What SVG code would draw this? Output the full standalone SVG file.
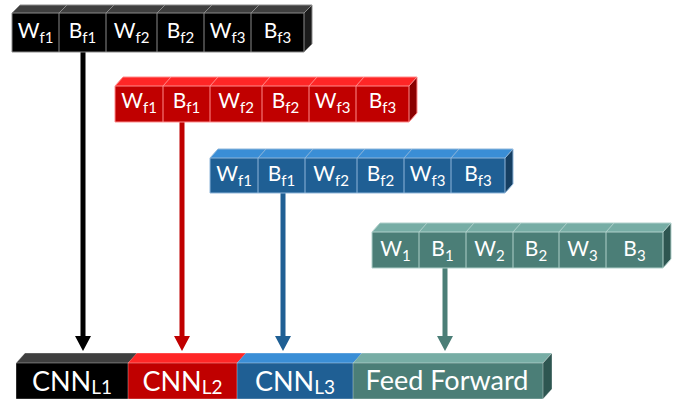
<svg xmlns="http://www.w3.org/2000/svg" width="673" height="402" viewBox="0 0 673 402">
<defs>
<style>
text{font-family:Lato,"Open Sans","Liberation Sans",sans-serif;fill:#fff;text-anchor:middle}
.c{font-size:21px}
.s{font-size:15px}
.b{font-size:27px}
.bs{font-size:19px}
.blk .f{fill:#000}.blk .t{fill:#3f3f3f}.blk .d{fill:#1b1b1b}.blk .l{stroke:#8a8a8a}
.red .f{fill:#c00000}.red .t{fill:#ff2626}.red .d{fill:#8a0000}.red .l{stroke:#ff8c8c}
.blu .f{fill:#1f5f94}.blu .t{fill:#3a8ed6}.blu .d{fill:#163f62}.blu .l{stroke:#8fb6da}
.tea .f{fill:#4b7e77}.tea .t{fill:#77ada5}.tea .d{fill:#2e5651}.tea .l{stroke:#b0d0cb}
.l{stroke-width:1;fill:none}
.cn{stroke-width:5;fill:none}
</style>
<marker id="mk" viewBox="0 0 15 16" markerUnits="userSpaceOnUse" markerWidth="15" markerHeight="16" refX="2" refY="8" orient="auto"><path d="M0,0 L15,8 L0,16 z" fill="#000"/></marker>
<marker id="mr" viewBox="0 0 15 16" markerUnits="userSpaceOnUse" markerWidth="15" markerHeight="16" refX="2" refY="8" orient="auto"><path d="M0,0 L15,8 L0,16 z" fill="#c00000"/></marker>
<marker id="mb" viewBox="0 0 15 16" markerUnits="userSpaceOnUse" markerWidth="15" markerHeight="16" refX="2" refY="8" orient="auto"><path d="M0,0 L15,8 L0,16 z" fill="#1f5f94"/></marker>
<marker id="mt" viewBox="0 0 15 16" markerUnits="userSpaceOnUse" markerWidth="15" markerHeight="16" refX="2" refY="8" orient="auto"><path d="M0,0 L15,8 L0,16 z" fill="#4b7e77"/></marker>
</defs>
<rect width="673" height="402" fill="#fff"/>

<g id="connectors">
<line class="cn" x1="83" y1="52" x2="83" y2="338" stroke="#000" marker-end="url(#mk)"/>
<line class="cn" x1="182" y1="122" x2="182" y2="338" stroke="#c00000" marker-end="url(#mr)"/>
<line class="cn" x1="283" y1="193" x2="283" y2="338" stroke="#1f5f94" marker-end="url(#mb)"/>
<line class="cn" x1="445" y1="268" x2="445" y2="338" stroke="#4b7e77" marker-end="url(#mt)"/>
</g>

<g id="params-cnn-l1" class="blk">
<polygon class="t" points="12,13 20,5 312,5 304,13"/>
<polygon class="d" points="304,13 312,5 312,44 304,52"/>
<rect class="f" x="12" y="13" width="292" height="39"/>
<path class="l" d="M12,13 L20,5 L312,5 L312,44 L304,52 L12,52 Z M12,13 H304 V52 M304,13 L312,5 M59,13 V52 M59,13 L67,5 M106,13 V52 M106,13 L114,5 M157,13 V52 M157,13 L165,5 M204,13 V52 M204,13 L212,5 M251,13 V52 M251,13 L259,5"/>
<text class="c" x="35.5" y="38">W<tspan class="s" dy="5">f1</tspan></text>
<text class="c" x="82.5" y="38">B<tspan class="s" dy="5">f1</tspan></text>
<text class="c" x="131.5" y="38">W<tspan class="s" dy="5">f2</tspan></text>
<text class="c" x="180.5" y="38">B<tspan class="s" dy="5">f2</tspan></text>
<text class="c" x="227.5" y="38">W<tspan class="s" dy="5">f3</tspan></text>
<text class="c" x="277.5" y="38">B<tspan class="s" dy="5">f3</tspan></text>
</g>

<g id="params-cnn-l2" class="red">
<polygon class="t" points="115,86 123,77 417,77 409,86"/>
<polygon class="d" points="409,86 417,77 417,113 409,122"/>
<rect class="f" x="115" y="86" width="294" height="36"/>
<path class="l" d="M115,86 L123,77 L417,77 L417,113 L409,122 L115,122 Z M115,86 H409 V122 M409,86 L417,77 M163,86 V122 M163,86 L171,77 M210,86 V122 M210,86 L218,77 M262,86 V122 M262,86 L270,77 M309,86 V122 M309,86 L317,77 M356,86 V122 M356,86 L364,77"/>
<text class="c" x="139" y="108">W<tspan class="s" dy="5">f1</tspan></text>
<text class="c" x="186.5" y="108">B<tspan class="s" dy="5">f1</tspan></text>
<text class="c" x="236" y="108">W<tspan class="s" dy="5">f2</tspan></text>
<text class="c" x="285.5" y="108">B<tspan class="s" dy="5">f2</tspan></text>
<text class="c" x="332.5" y="108">W<tspan class="s" dy="5">f3</tspan></text>
<text class="c" x="382.5" y="108">B<tspan class="s" dy="5">f3</tspan></text>
</g>

<g id="params-cnn-l3" class="blu">
<polygon class="t" points="210,158 218,149 513,149 505,158"/>
<polygon class="d" points="505,158 513,149 513,184 505,193"/>
<rect class="f" x="210" y="158" width="295" height="35"/>
<path class="l" d="M210,158 L218,149 L513,149 L513,184 L505,193 L210,193 Z M210,158 H505 V193 M505,158 L513,149 M258,158 V193 M258,158 L266,149 M305,158 V193 M305,158 L313,149 M357,158 V193 M357,158 L365,149 M404,158 V193 M404,158 L412,149 M451,158 V193 M451,158 L459,149"/>
<text class="c" x="234" y="181">W<tspan class="s" dy="5">f1</tspan></text>
<text class="c" x="281.5" y="181">B<tspan class="s" dy="5">f1</tspan></text>
<text class="c" x="331" y="181">W<tspan class="s" dy="5">f2</tspan></text>
<text class="c" x="380.5" y="181">B<tspan class="s" dy="5">f2</tspan></text>
<text class="c" x="427.5" y="181">W<tspan class="s" dy="5">f3</tspan></text>
<text class="c" x="478" y="181">B<tspan class="s" dy="5">f3</tspan></text>
</g>

<g id="params-ff" class="tea">
<polygon class="t" points="372,232 380,223 671,223 663,232"/>
<polygon class="d" points="663,232 671,223 671,259 663,268"/>
<rect class="f" x="372" y="232" width="291" height="36"/>
<path class="l" d="M372,232 L380,223 L671,223 L671,259 L663,268 L372,268 Z M372,232 H663 V268 M663,232 L671,223 M419,232 V268 M419,232 L427,223 M466,232 V268 M466,232 L474,223 M513,232 V268 M513,232 L521,223 M559,232 V268 M559,232 L567,223 M606,232 V268 M606,232 L614,223"/>
<text class="c" x="395.5" y="256">W<tspan class="s" dy="5">1</tspan></text>
<text class="c" x="442.5" y="256">B<tspan class="s" dy="5">1</tspan></text>
<text class="c" x="489.5" y="256">W<tspan class="s" dy="5">2</tspan></text>
<text class="c" x="536" y="256">B<tspan class="s" dy="5">2</tspan></text>
<text class="c" x="582.5" y="256">W<tspan class="s" dy="5">3</tspan></text>
<text class="c" x="634.5" y="256">B<tspan class="s" dy="5">3</tspan></text>
</g>

<g id="cnn-l1" class="blk">
<polygon class="t" points="16,363 25,353 137,353 128,363"/>
<rect class="f" x="16" y="363" width="112" height="36"/>
<text class="b" x="72" y="391">CNN<tspan class="bs" dy="3">L1</tspan></text>
</g>
<g id="cnn-l2" class="red">
<polygon class="t" points="128,363 137,353 246,353 237,363"/>
<rect class="f" x="128" y="363" width="109" height="36"/>
<text class="b" x="182.5" y="391">CNN<tspan class="bs" dy="3">L2</tspan></text>
</g>
<g id="cnn-l3" class="blu">
<polygon class="t" points="237,363 246,353 362,353 353,363"/>
<rect class="f" x="237" y="363" width="116" height="36"/>
<text class="b" x="295" y="391">CNN<tspan class="bs" dy="3">L3</tspan></text>
</g>
<g id="feed-forward" class="tea">
<polygon class="t" points="353,363 362,353 552,353 543,363"/>
<polygon class="d" points="543,363 552,353 552,389 543,399"/>
<rect class="f" x="353" y="363" width="190" height="36"/>
<text class="b" x="447" y="390">Feed Forward</text>
</g>
<path d="M16,363 L25,353 L552,353 L552,389 L543,399 L16,399 Z M16,363 H543 V399 M543,363 L552,353 M128,363 V399 M237,363 V399 M353,363 V399" fill="none" stroke="#ffffff" stroke-opacity="0.35" stroke-width="1"/>
</svg>
